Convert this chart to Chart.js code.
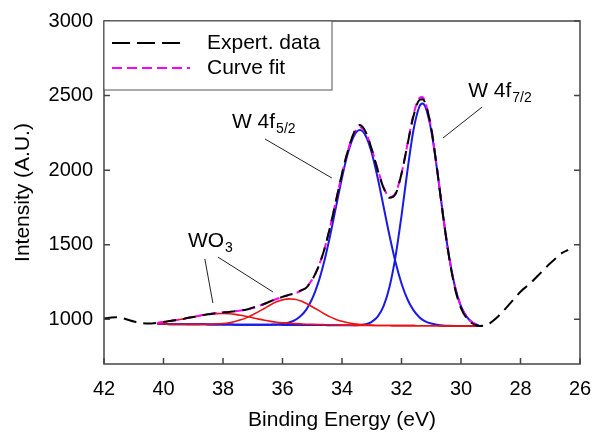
<!DOCTYPE html>
<html>
<head>
<meta charset="utf-8">
<script src="https://cdn.jsdelivr.net/npm/chart.js@4.4.0/dist/chart.umd.min.js"></script>
<style>
  html, body { margin: 0; padding: 0; background: #fff; }
</style>
</head>
<body>
<canvas id="xpsChart" width="593" height="434"></canvas>
<script>
// Binding energy grid used by the fitted components (eV)
const energy = [40.2, 40.0, 39.8, 39.6, 39.4, 39.2, 39.0, 38.8, 38.6, 38.4,
                38.2, 38.0, 37.8, 37.6, 37.4, 37.2, 37.0, 36.8, 36.6, 36.4,
                36.2, 36.0, 35.8, 35.6, 35.4, 35.2, 35.0, 34.8, 34.6, 34.4,
                34.2, 34.0, 33.8, 33.6, 33.4, 33.2, 33.0, 32.8, 32.6, 32.4,
                32.2, 32.0, 31.8, 31.6, 31.4, 31.3, 31.2, 31.0, 30.8, 30.6,
                30.4, 30.2, 30.0, 29.8, 29.6, 29.4];

// Experimental spectrum has a wider energy range
const expEnergy = [42.0, 41.8, 41.6, 41.4, 41.2, 41.0, 40.8, 40.6, 40.4,
                   ...energy,
                   29.2, 29.0, 28.8, 28.6, 28.4, 28.2, 28.0, 27.8, 27.6, 27.4,
                   27.2, 27.0, 26.8, 26.6, 26.4];

const expData = [1006, 1010, 1013, 1008, 997, 985, 976, 972, 972,
                 976, 982, 988, 994, 1000, 1008, 1015, 1024, 1031, 1035,
                 1043, 1046, 1049, 1054, 1059, 1066, 1078, 1089, 1104, 1121,
                 1136, 1150, 1163, 1173, 1192, 1212, 1266, 1348, 1465, 1619,
                 1796, 1976, 2132, 2250, 2302, 2255, 2140, 2000, 1880, 1815,
                 1840, 1975, 2170, 2360, 2470, 2475, 2450, 2280, 2000, 1690,
                 1415, 1205, 1075, 1005, 970, 955,
                 958, 978, 1010, 1050, 1095, 1140, 1185, 1220, 1255, 1295,
                 1335, 1375, 1410, 1445, 1465];

const fitData = [976, 982, 988, 994, 1000, 1008, 1015, 1024, 1031, 1037,
                 1042, 1046, 1049, 1054, 1059, 1066, 1076, 1089, 1104, 1121,
                 1136, 1151, 1163, 1173, 1189, 1216, 1266, 1348, 1465, 1619,
                 1796, 1976, 2132, 2245, 2288, 2250, 2140, 2006, 1884, 1820,
                 1847, 1977, 2174, 2370, 2483, 2490, 2455, 2280, 2003, 1695,
                 1421, 1217, 1086, 1014, 977, 960];

// WO3 components (red)
const wo3Low = [976, 982, 988, 994, 1000, 1008, 1015, 1023, 1030, 1035,
                1038, 1039, 1037, 1033, 1027, 1019, 1010, 1001, 993, 986,
                980, 976, 973, 971, 969, 967, 966, 965, 964, 963,
                962, 961, 960, 959, 959, 959, 959, 958, 958, 958,
                957, 957, 957, 957, 956, 956, 956, 956, 956, 955,
                955, 955, 955, 955, 955, 955];

const wo3High = [968, 968, 967, 967, 967, 966, 966, 966, 967, 967,
                 969, 972, 977, 985, 996, 1011, 1030, 1051, 1074, 1097,
                 1117, 1130, 1137, 1134, 1124, 1106, 1084, 1061, 1037, 1016,
                 999, 986, 976, 969, 965, 962, 960, 958, 958, 958,
                 957, 957, 957, 957, 956, 956, 956, 956, 956, 955,
                 955, 955, 955, 955, 955, 955];

// W 4f doublet (blue)
const w4f52 = [968, 968, 967, 967, 967, 966, 966, 966, 966, 965,
               965, 965, 965, 964, 964, 964, 964, 963, 963, 964,
               965, 969, 977, 992, 1020, 1065, 1138, 1244, 1386, 1560,
               1755, 1949, 2116, 2229, 2269, 2229, 2115, 1947, 1753, 1558,
               1382, 1240, 1134, 1061, 1014, 998, 986, 971, 963, 958,
               956, 955, 955, 955, 955, 955];

const w4f72 = [968, 968, 967, 967, 967, 966, 966, 966, 966, 965,
               965, 965, 965, 964, 964, 964, 964, 963, 963, 963,
               963, 962, 962, 962, 962, 961, 961, 961, 961, 960,
               960, 960, 960, 960, 962, 967, 983, 1017, 1089, 1220,
               1422, 1694, 1997, 2266, 2425, 2446, 2425, 2265, 1996, 1692,
               1420, 1217, 1086, 1014, 975, 958];

const xTicks = [42, 40, 38, 36, 34, 32, 30, 28, 26];
const yTicks = [1000, 1500, 2000, 2500, 3000];

const FONT = "'Liberation Sans', Arial, sans-serif";

function pts(xs, ys) {
    return xs.map((x, i) => ({ x: x, y: ys[i] }));
}

// labels drawn on the plot, positions in data units
const notes = [
    { text: 'W 4f', sub: '5/2', at: [37.7, 2282], lines: [[[36.59, 2209], [34.34, 1947]]] },
    { text: 'W 4f', sub: '7/2', at: [29.76, 2490], lines: [[[29.29, 2423], [30.61, 2215]]] },
    { text: 'WO', sub: '3', at: [39.18, 1484], lines: [[[38.61, 1404], [38.34, 1109]],
                                                        [[38.17, 1417], [36.32, 1183]]] }
];

const decorPlugin = {
    id: 'decor',
    afterDraw(chart) {
        const ctx = chart.ctx;
        const a = chart.chartArea;
        const xs = chart.scales.x, ys = chart.scales.y;
        ctx.save();

        // frame + inward ticks
        ctx.strokeStyle = '#444';
        ctx.lineWidth = 1.5;
        ctx.setLineDash([]);
        ctx.strokeRect(a.left, a.top, a.right - a.left, a.bottom - a.top);
        ctx.beginPath();
        xTicks.forEach(v => {
            const p = xs.getPixelForValue(v);
            ctx.moveTo(p, a.bottom); ctx.lineTo(p, a.bottom - 6);
        });
        yTicks.forEach(v => {
            const p = ys.getPixelForValue(v);
            ctx.moveTo(a.left, p); ctx.lineTo(a.left + 6, p);
            ctx.moveTo(a.right, p); ctx.lineTo(a.right - 6, p);
        });
        ctx.stroke();

        // legend box
        const lx = a.left, ly = a.top;
        ctx.fillStyle = '#fff';
        ctx.fillRect(lx, ly, 228, 69);
        ctx.strokeStyle = '#555';
        ctx.lineWidth = 1;
        ctx.strokeRect(lx, ly, 228, 69);
        ctx.lineWidth = 2;
        ctx.strokeStyle = '#000';
        ctx.setLineDash([18, 7]);
        ctx.beginPath(); ctx.moveTo(lx + 8, ly + 22); ctx.lineTo(lx + 80, ly + 22); ctx.stroke();
        ctx.strokeStyle = '#ff00ff';
        ctx.setLineDash([10, 5]);
        ctx.beginPath(); ctx.moveTo(lx + 8, ly + 47); ctx.lineTo(lx + 86, ly + 47); ctx.stroke();
        ctx.setLineDash([]);
        ctx.fillStyle = '#000';
        ctx.font = '21px ' + FONT;
        ctx.textBaseline = 'middle';
        ctx.fillText('Expert. data', lx + 103, ly + 22);
        ctx.fillText('Curve fit', lx + 103, ly + 47);

        // peak labels with leader lines
        ctx.strokeStyle = '#222';
        ctx.lineWidth = 1;
        ctx.textBaseline = 'alphabetic';
        notes.forEach(n => {
            n.lines.forEach(l => {
                ctx.beginPath();
                ctx.moveTo(xs.getPixelForValue(l[0][0]), ys.getPixelForValue(l[0][1]));
                ctx.lineTo(xs.getPixelForValue(l[1][0]), ys.getPixelForValue(l[1][1]));
                ctx.stroke();
            });
            const tx = xs.getPixelForValue(n.at[0]);
            const ty = ys.getPixelForValue(n.at[1]);
            ctx.font = '21px ' + FONT;
            ctx.fillText(n.text, tx, ty);
            const w = ctx.measureText(n.text).width;
            ctx.font = '14px ' + FONT;
            ctx.fillText(n.sub, tx + w + 1, ty + 5);
        });
        ctx.restore();
    }
};

const lineBase = { pointRadius: 0, fill: false, cubicInterpolationMode: 'monotone' };

const config = {
    type: 'line',
    data: {
        datasets: [
            { ...lineBase, label: 'Expert. data', data: pts(expEnergy, expData),
              borderColor: '#000', borderWidth: 2, borderDash: [13, 7] },
            { ...lineBase, label: 'Curve fit', data: pts(energy, fitData),
              borderColor: '#ff00ff', borderWidth: 2, borderDash: [8, 5] },
            { ...lineBase, label: 'WO3 a', data: pts(energy, wo3Low),
              borderColor: '#ee1111', borderWidth: 1.6 },
            { ...lineBase, label: 'WO3 b', data: pts(energy, wo3High),
              borderColor: '#ee1111', borderWidth: 1.6 },
            { ...lineBase, label: 'W 4f5/2', data: pts(energy, w4f52),
              borderColor: '#1a1ae6', borderWidth: 2 },
            { ...lineBase, label: 'W 4f7/2', data: pts(energy, w4f72),
              borderColor: '#1a1ae6', borderWidth: 2 }
        ]
    },
    options: {
        responsive: false,
        animation: false,
        layout: { padding: { left: 0, right: 13, top: 21, bottom: 0 } },
        plugins: {
            legend: { display: false },
            tooltip: { enabled: false }
        },
        scales: {
            x: {
                type: 'linear',
                reverse: true,
                min: 26,
                max: 42,
                afterBuildTicks: s => { s.ticks = xTicks.map(v => ({ value: v })); },
                afterFit: s => { s.height = 70; s.paddingLeft = 0; s.paddingRight = 0; },
                grid: { display: false, drawTicks: false },
                border: { display: false },
                ticks: { color: '#000', padding: 13, maxRotation: 0, font: { family: FONT, size: 20 } },
                title: { display: true, text: 'Binding Energy (eV)', color: '#000',
                         padding: { top: 0, bottom: 1 }, font: { family: FONT, size: 21 } }
            },
            y: {
                min: 700,
                max: 3000,
                afterBuildTicks: s => { s.ticks = yTicks.map(v => ({ value: v })); },
                afterFit: s => { s.width = 104; s.paddingTop = 0; s.paddingBottom = 0; },
                grid: { display: false, drawTicks: false },
                border: { display: false },
                ticks: { color: '#000', padding: 11, font: { family: FONT, size: 20 },
                         callback: v => String(v) },
                title: { display: true, text: 'Intensity (A.U.)', color: '#000',
                         padding: { top: 11, bottom: 0 }, font: { family: FONT, size: 21 } }
            }
        }
    },
    plugins: [decorPlugin]
};

new Chart(document.getElementById('xpsChart').getContext('2d'), config);
</script>
</body>
</html>
